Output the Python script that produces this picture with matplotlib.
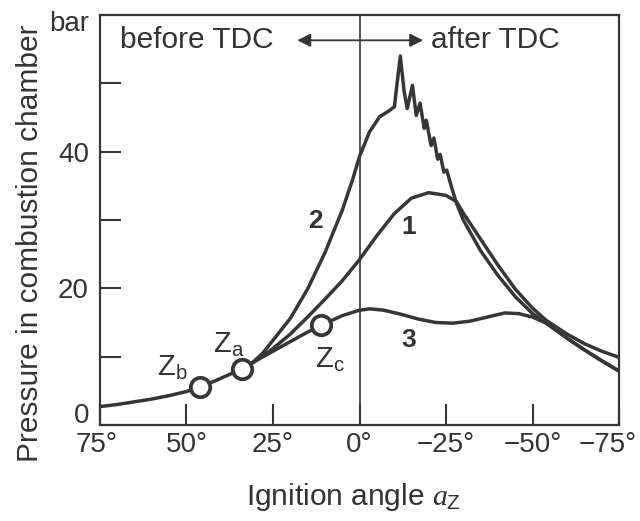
import matplotlib
matplotlib.use("Agg")
import matplotlib.pyplot as plt
import matplotlib.transforms as mtransforms

plt.rcParams['font.family'] = ['Liberation Sans', 'DejaVu Sans']
plt.rcParams['mathtext.fontset'] = 'custom'
plt.rcParams['mathtext.rm'] = 'Liberation Sans'
plt.rcParams['mathtext.it'] = 'Liberation Serif:italic'
plt.rcParams['mathtext.bf'] = 'Liberation Sans:bold'

# ---------------- data ----------------
common_angle = [75, 70, 65, 60, 55, 50, 46, 42, 38, 34, 31]
common_p = [2.7, 3.0, 3.4, 3.8, 4.3, 4.9, 5.6, 6.4, 7.3, 8.2, 9.1]

curve1_angle = [31, 28, 25, 20, 15, 10, 5, 0, -5, -10, -15, -20, -25, -28, -30,
                -35, -40, -45, -50, -54, -60, -65, -70, -75]
curve1_p = [9.1, 10.1, 11.2, 13.3, 15.8, 18.4, 21.1, 24.2, 27.7, 30.9, 33.2, 34.0,
            33.6, 32.7, 31.0, 27.2, 23.4, 19.9, 17.1, 15.3, 13.3, 11.9, 10.8, 9.9]

curve2_angle = [31, 28, 25, 20, 15, 10, 5, 2, 0, -2.9, -5.8, -8.6, -10.1, -10.7, -11.8,
                -12.9, -13.8, -15.3, -16.4, -17.5, -18.7, -19.3, -20.7, -21.5, -22.6,
                -23.3, -24.4, -25.2, -26.5, -28, -30, -35, -40, -45, -50, -54, -60,
                -65, -70, -75]
curve2_p = [9.1, 10.5, 12.4, 15.6, 19.9, 25.2, 31.4, 35.9, 39.3, 42.9, 45.1, 46.0,
            46.6, 49.3, 54.0, 48.8, 46.3, 49.7, 45.3, 47.1, 43.4, 44.6, 40.9, 42.0,
            38.9, 39.6, 37.0, 37.3, 35.0, 32.5, 30.0, 25.5, 21.9, 18.8, 16.3, 14.9,
            12.7, 11.0, 9.4, 7.9]

curve3_angle = [31, 25, 20, 15, 11, 5, 0, -3, -7, -12, -17, -22, -27, -32, -37, -42,
                -46, -50, -54, -60, -65, -70, -75]
curve3_p = [9.1, 10.8, 12.2, 13.6, 14.6, 16.0, 16.8, 17.0, 16.8, 16.2, 15.5, 15.0,
            14.9, 15.2, 15.8, 16.4, 16.3, 15.8, 14.9, 12.7, 11.0, 9.4, 7.9]

ign_names = [r'$\mathrm{Z_b}$', r'$\mathrm{Z_a}$', r'$\mathrm{Z_c}$']
ign_angle = [46, 34, 11]
ign_p = [5.6, 8.2, 14.6]

curve_names = ['1', '2', '3']

x_ticks = [75, 50, 25, 0, -25, -50, -75]
x_ticklabels = ['75°', '50°', '25°', '0°', '\u221225°', '\u221250°', '\u221275°']
y_ticks = [0, 10, 20, 30, 40, 50]
y_ticklabels = ['0', '', '20', '', '40', '']

# ---------------- figure ----------------
ink = '#363636'
txt = '#333333'
fig = plt.figure(figsize=(6.4, 5.21), dpi=100)
ax = fig.add_axes([100/640, 1-425/521, 519/640, 410/521])

lw = 2.5
for a, p in [(common_angle, common_p), (curve1_angle, curve1_p),
             (curve2_angle, curve2_p), (curve3_angle, curve3_p)]:
    ax.plot(a, p, color=ink, lw=lw, solid_joinstyle='round', solid_capstyle='round')

ax.plot(ign_angle, ign_p, 'o', ms=14, mfc='white', mec=ink, mew=2.7, zorder=5)

ax.axvline(0, color=ink, lw=1.2)

ax.set_xlim(75, -75)
ax.set_ylim(0, 60)
ax.set_xticks(x_ticks)
ax.set_xticklabels(x_ticklabels)
ax.set_yticks(y_ticks)
ax.set_yticklabels(y_ticklabels)
ax.tick_params(direction='in', length=15, width=1.5, color=ink, labelsize=20,
               labelcolor=txt)
ax.tick_params(axis='x', pad=5)
ax.tick_params(axis='y', pad=8)
for s in ax.spines.values():
    s.set_linewidth(1.6)
    s.set_color(ink)

# shift a few tick labels like the reference
xl = ax.get_xticklabels()
xl[-1].set_transform(xl[-1].get_transform() +
                     mtransforms.ScaledTranslation(-11/100, 0, fig.dpi_scale_trans))
xl[0].set_transform(xl[0].get_transform() +
                    mtransforms.ScaledTranslation(-3/100, 0, fig.dpi_scale_trans))
yl = ax.get_yticklabels()
yl[0].set_transform(yl[0].get_transform() +
                    mtransforms.ScaledTranslation(0, 12/100, fig.dpi_scale_trans))

# labels
fig.text(30/640, 1-243/521, 'Pressure in combustion chamber', rotation=90,
         ha='center', va='center', fontsize=21.5, color=txt)
fig.text(354/640, 1-497/521, r'Ignition angle $a_\mathrm{Z}$',
         ha='center', va='center', fontsize=21.5, color=txt)
fig.text(89/640, 1-24/521, 'bar', ha='right', va='center', fontsize=20, color=txt)

# top annotations
ax.text(69.2, 56.3, 'before TDC', ha='left', va='center', fontsize=21.5, color=txt)
ax.text(-20.8, 56.3, 'after TDC', ha='left', va='center', fontsize=21.5, color=txt)
ax.annotate('', xy=(-18.4, 56.3), xytext=(18.0, 56.3),
            arrowprops=dict(arrowstyle='<|-|>', lw=1.3, color=ink,
                            mutation_scale=20, shrinkA=0, shrinkB=0))

# curve numbers
ax.text(12.7, 29.9, curve_names[1], ha='center', va='center', fontsize=19,
        fontweight='bold', color=txt)
ax.text(-14.1, 29.0, curve_names[0], ha='center', va='center', fontsize=19,
        fontweight='bold', color=txt)
ax.text(-14.1, 12.5, curve_names[2], ha='center', va='center', fontsize=19,
        fontweight='bold', color=txt)

# ignition point labels
ax.text(58.6, 7.35, ign_names[0], ha='left', va='baseline', fontsize=21, color=txt)
ax.text(42.4, 10.7, ign_names[1], ha='left', va='baseline', fontsize=21, color=txt)
ax.text(13.0, 8.5, ign_names[2], ha='left', va='baseline', fontsize=21, color=txt)

fig.savefig('out.png', dpi=100, facecolor='white')
